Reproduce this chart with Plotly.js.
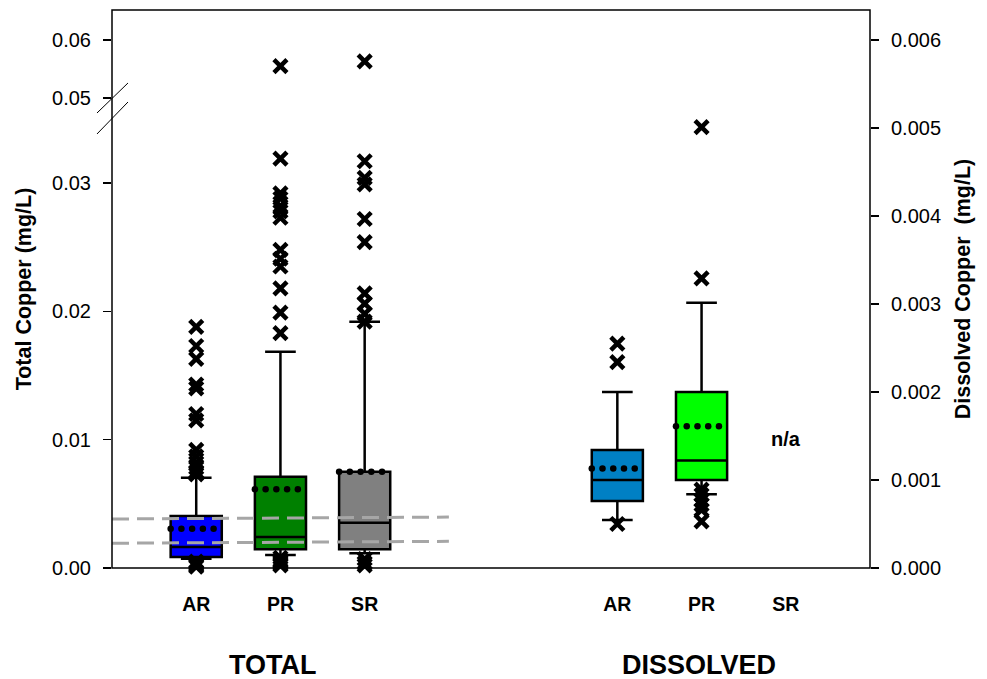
<!DOCTYPE html>
<html>
<head>
<meta charset="utf-8">
<script src="https://cdn.plot.ly/plotly-3.0.1.min.js"></script>
<style>html,body{margin:0;padding:0;background:#fff;}#chart{width:987px;height:679px;}</style>
</head>
<body>
<div id="chart"></div>
<script>
// ---- data ----
const sites = ["AR", "PR", "SR"];
const totalPos = [0, 1, 2];
const dissolvedPos = [5, 6, 7];

const totalQ1 = [0.00086, 0.00146, 0.00146];
const totalMedian = [0.00164, 0.00242, 0.00353];
const totalQ3 = [0.00405, 0.00712, 0.0075];
const totalLowerWhisker = [0.00072, 0.00101, 0.00115];
const totalUpperWhisker = [0.00704, 0.01686, 0.0192];
const totalMean = [0.00306, 0.00613, 0.0075];

const totalOutliersAR = [0.0188, 0.0173, 0.0163, 0.0143, 0.0140, 0.0120, 0.0115, 0.0092, 0.0087, 0.0082, 0.0078, 0.0075, 0.0073,
                         0.0005, 0.0004, 0.0003, 0.0002, 0.0001];
const totalOutliersPR = [0.0555, 0.0319, 0.0292, 0.0288, 0.0282, 0.0278, 0.0273, 0.0248, 0.0241, 0.0235, 0.0218, 0.0199, 0.0183,
                         0.0008, 0.0006, 0.0005, 0.0004, 0.0003, 0.0002];
const totalOutliersSR = [0.0563, 0.0317, 0.0304, 0.0299, 0.0272, 0.0254, 0.0214, 0.0206, 0.0198, 0.0192,
                         0.0007, 0.0004, 0.0002];

const dissolvedSites = ["AR", "PR"];
const dissolvedQ1 = [0.000761, 0.0010];
const dissolvedMedian = [0.0010, 0.00122];
const dissolvedQ3 = [0.00134, 0.0020];
const dissolvedLowerWhisker = [0.000545, 0.000837];
const dissolvedUpperWhisker = [0.0020, 0.003015];
const dissolvedMean = [0.00113, 0.00161];
const dissolvedOutliersAR = [0.00255, 0.00234, 0.00050];
const dissolvedOutliersPR = [0.00501, 0.00329, 0.00089, 0.00083, 0.00077, 0.00072, 0.00066, 0.00053];

const criteriaUpper = [0.00382, 0.00397];
const criteriaLower = [0.00193, 0.00208];
const criteriaX = [-1, 3];

const groupLabels = ["TOTAL", "DISSOLVED"];

// ---- styling ----
const totalColors = ["#0000ff", "#008000", "#808080"];
const dissolvedColors = ["#0080c4", "#00ff00"];
const boxW = 0.607;
const FONT = "Liberation Sans, Arial, sans-serif";
const BREAK = 0.047; // values above go on upper (broken) axis

const traces = [];

function addBox(pos, q1, med, q3, lo, hi, color, yax) {
  traces.push({
    type: "box", x: [pos], q1: [q1], median: [med], q3: [q3],
    lowerfence: [lo], upperfence: [hi],
    width: boxW, whiskerwidth: 0.6, boxpoints: false,
    fillcolor: color, line: {color: "#000", width: 2.5},
    yaxis: yax, xaxis: "x", showlegend: false, hoverinfo: "y"
  });
}
function addMean(pos, m, yax) {
  const xs = [], ys = [];
  for (let i = 0; i < 5; i++) { xs.push(pos - boxW / 2 + i * boxW * 0.21); ys.push(m); }
  traces.push({type: "scatter", mode: "markers", x: xs, y: ys, yaxis: yax, xaxis: "x",
    marker: {color: "#000", size: 6.5}, showlegend: false, hoverinfo: "skip"});
}
function addOutliers(pos, vals, yax) {
  traces.push({type: "scatter", mode: "markers", x: vals.map(() => pos), y: vals, yaxis: yax, xaxis: "x",
    marker: {symbol: "x-thin-open", size: 13, color: "#000", line: {color: "#000", width: 4.5}},
    showlegend: false, hoverinfo: "y", cliponaxis: false});
}

const totalOut = [totalOutliersAR, totalOutliersPR, totalOutliersSR];
for (let i = 0; i < 3; i++) {
  addBox(totalPos[i], totalQ1[i], totalMedian[i], totalQ3[i], totalLowerWhisker[i], totalUpperWhisker[i], totalColors[i], "y");
}
for (let i = 0; i < 2; i++) {
  addBox(dissolvedPos[i], dissolvedQ1[i], dissolvedMedian[i], dissolvedQ3[i], dissolvedLowerWhisker[i], dissolvedUpperWhisker[i], dissolvedColors[i], "y3");
}
// criteria dashed lines
[criteriaUpper, criteriaLower].forEach(c => traces.push({
  type: "scatter", mode: "lines", x: criteriaX, y: c, yaxis: "y", xaxis: "x",
  line: {color: "#a6a6a6", width: 3, dash: "17px,8px"}, showlegend: false, hoverinfo: "skip"
}));
for (let i = 0; i < 3; i++) {
  addMean(totalPos[i], totalMean[i], "y");
  addOutliers(totalPos[i], totalOut[i].filter(v => v < BREAK), "y");
  addOutliers(totalPos[i], totalOut[i].filter(v => v >= BREAK), "y2");
}
const dissOut = [dissolvedOutliersAR, dissolvedOutliersPR];
for (let i = 0; i < 2; i++) {
  addMean(dissolvedPos[i], dissolvedMean[i], "y3");
  addOutliers(dissolvedPos[i], dissOut[i], "y3");
}

const tickFont = {family: FONT, size: 20, color: "#000"};
const titleFont = {family: FONT, size: 21.5, color: "#000", weight: "bold"};
const split = 0.8208;

const layout = {
  width: 987, height: 679,
  margin: {l: 112, r: 117, t: 10, b: 111},
  paper_bgcolor: "#fff", plot_bgcolor: "rgba(0,0,0,0)",
  showlegend: false, boxmode: "overlay",
  xaxis: {
    range: [-1, 8], tickvals: totalPos.concat(dissolvedPos),
    ticktext: sites.concat(sites), showgrid: false, zeroline: false, showline: false,
    ticks: "", ticklabelstandoff: 22,
    tickfont: {family: FONT, size: 19.5, color: "#000", weight: "bold"}, anchor: "y"
  },
  yaxis: {
    domain: [0, 1], range: [0, 0.04349],
    tickvals: [0, 0.01, 0.02, 0.03], tickformat: ".2f",
    ticks: "outside", ticklen: 8, tickwidth: 1.5, tickcolor: "#000",
    ticklabelstandoff: 8,
    showgrid: false, zeroline: false, showline: false, tickfont: tickFont,
    title: {text: "Total Copper (mg/L)", font: titleFont, standoff: 14}
  },
  yaxis2: {
    domain: [split, 1], range: [0.04793, 0.06517], anchor: "x",
    tickvals: [0.05, 0.06], tickformat: ".2f",
    ticks: "outside", ticklen: 8, tickwidth: 1.5, tickcolor: "#000",
    ticklabelstandoff: 8,
    showgrid: false, zeroline: false, showline: false, tickfont: tickFont
  },
  yaxis3: {
    overlaying: "y", side: "right", anchor: "x", range: [0, 0.00634],
    tickvals: [0, 0.001, 0.002, 0.003, 0.004, 0.005, 0.006], tickformat: ".3f",
    ticks: "outside", ticklen: 8, tickwidth: 1.5, tickcolor: "#000",
    ticklabelstandoff: 8,
    showgrid: false, zeroline: false, showline: false, tickfont: tickFont,
    title: {text: "Dissolved Copper\u00a0 (mg/L)", font: titleFont, standoff: 14}
  },
  shapes: [
    {type: "rect", xref: "paper", yref: "paper", x0: 0, x1: 1, y0: 0, y1: 1, line: {color: "#000", width: 1.5}},
    {type: "line", xref: "paper", yref: "paper", x0: -0.0198, x1: 0.0211, y0: 0.8154, y1: 0.8692, line: {color: "#000", width: 1}},
    {type: "line", xref: "paper", yref: "paper", x0: -0.0198, x1: 0.0211, y0: 0.7778, y1: 0.8351, line: {color: "#000", width: 1}}
  ],
  annotations: [
    {text: groupLabels[0], xref: "x", yref: "paper", x: 0.91, y: -0.174, yanchor: "middle", showarrow: false,
     font: {family: FONT, size: 27, color: "#000", weight: "bold"}},
    {text: groupLabels[1], xref: "x", yref: "paper", x: 5.97, y: -0.174, yanchor: "middle", showarrow: false,
     font: {family: FONT, size: 27, color: "#000", weight: "bold"}},
    {text: "n/a", xref: "x", yref: "y3", x: 7, y: 0.001466, showarrow: false,
     font: {family: FONT, size: 20, color: "#000", weight: "bold"}}
  ]
};

Plotly.newPlot("chart", traces, layout, {displayModeBar: false, staticPlot: true});
</script>
</body>
</html>
